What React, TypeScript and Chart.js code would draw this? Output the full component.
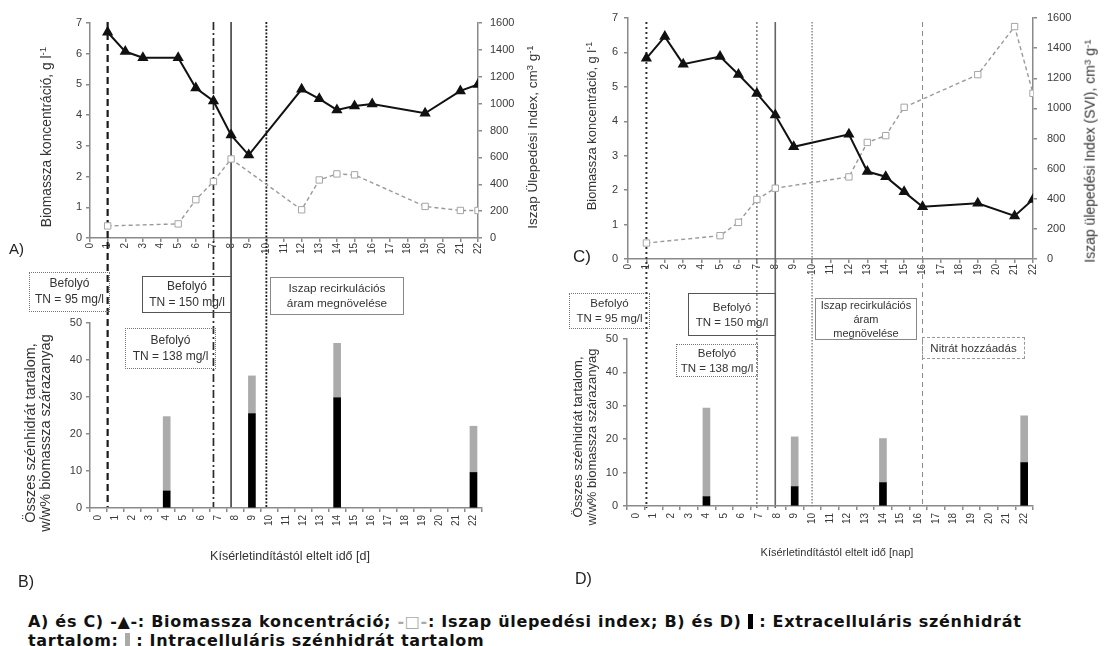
import React, { useEffect, useRef } from "react";
import { Chart, registerables } from "chart.js";

Chart.register(...registerables);

const FONT = "'Liberation Sans', Arial, Helvetica, sans-serif";
Chart.defaults.font.family = FONT;

// ---------------- data ----------------
const dayTickLabels = ["0", "1", "2", "3", "4", "5", "6", "7", "8", "9", "10", "11", "12", "13", "14", "15", "16", "17", "18", "19", "20", "21", "22"];

// Panel A
const bioDaysA = [1, 2, 3, 5, 6, 7, 8, 9, 12, 13, 14, 15, 16, 19, 21, 22];
const bioA = [6.7, 6.07, 5.87, 5.87, 4.88, 4.46, 3.35, 2.7, 4.84, 4.53, 4.17, 4.3, 4.36, 4.06, 4.79, 5.0];
const sviDaysA = [1, 5, 6, 7, 8, 12, 13, 14, 15, 19, 21, 22];
const sviA = [90, 105, 285, 420, 588, 210, 432, 477, 470, 235, 205, 205];

// Panel C
const bioDaysC = [1, 2, 3, 5, 6, 7, 8, 9, 12, 13, 14, 15, 16, 19, 21, 22];
const bioC = [5.83, 6.46, 5.66, 5.88, 5.36, 4.81, 4.18, 3.26, 3.62, 2.54, 2.39, 1.95, 1.52, 1.62, 1.25, 1.73];
const sviDaysC = [1, 5, 6, 7, 8, 12, 13, 14, 15, 19, 21, 22];
const sviC = [106, 155, 243, 395, 470, 545, 774, 819, 1007, 1224, 1543, 1100];

// Panel B
const barDaysB = ["4", "9", "14", "22"];
const extraB = [4.6, 25.5, 29.8, 9.6];
const intraB = [20.1, 10.2, 14.7, 12.5];

// Panel D
const barDaysD = ["4", "9", "14", "22"];
const extraD = [2.8, 5.8, 7.0, 13.0];
const intraD = [26.5, 14.9, 13.2, 14.0];

// event lines (days)
const eventDaysA = [1, 7, 8, 10];
const eventDaysC = [1, 7, 8, 10, 16];

// ---------------- styles ----------------
const eventStylesA = [
  { dash: [7, 4], width: 2.2, color: "#1a1a1a" },
  { dash: [8, 3, 2, 3], width: 1.7, color: "#2a2a2a" },
  { dash: [], width: 1.8, color: "#555" },
  { dash: [2, 1.5], width: 1.8, color: "#222" },
];
const eventStylesC = [
  { dash: [2, 3], width: 2, color: "#333" },
  { dash: [2, 2], width: 1.3, color: "#666" },
  { dash: [], width: 1.6, color: "#666" },
  { dash: [1.5, 1.5], width: 1.3, color: "#777" },
  { dash: [5, 4], width: 1, color: "#888" },
];

const AXIS = "#8a8a8a";
const TICK = "#3a3a3a";

function eventPlugin(days: number[], styles: any[], top: number, bottom: number) {
  return {
    id: "eventLines",
    beforeDatasetsDraw(chart: any) {
      const ctx = chart.ctx;
      const xs = chart.scales.x;
      days.forEach((d, i) => {
        const s = styles[i];
        const px = xs.getPixelForValue(d);
        ctx.save();
        ctx.beginPath();
        ctx.setLineDash(s.dash);
        ctx.lineWidth = s.width;
        ctx.strokeStyle = s.color;
        ctx.moveTo(px, top);
        ctx.lineTo(px, bottom);
        ctx.stroke();
        ctx.restore();
      });
    },
  };
}

const plain = (v: any) => String(v);

function yAxis(pos: string, min: number, max: number, step: number, width: number, pad: number, extra: any = {}) {
  return {
    type: "linear",
    position: pos,
    min,
    max,
    ticks: { stepSize: step, color: TICK, font: { size: 11 }, padding: pad, callback: plain },
    grid: { drawOnChartArea: false, drawTicks: true, tickLength: 4, color: AXIS, lineWidth: 1.5 },
    border: { color: AXIS, width: 1.5 },
    afterFit: (s: any) => {
      s.width = width;
    },
    ...extra,
  };
}

function xTicks() {
  return { autoSkip: false, minRotation: 90, maxRotation: 90, color: TICK, font: { size: 10 }, padding: 1 };
}

function lineConfig(o: any) {
  return {
    type: "line",
    data: {
      datasets: [
        {
          label: "Biomassza koncentráció",
          data: o.bioDays.map((d: number, i: number) => ({ x: d, y: o.bio[i] })),
          yAxisID: "y",
          borderColor: "#111",
          borderWidth: 2,
          pointStyle: "triangle",
          pointRadius: 4.5,
          pointBackgroundColor: "#111",
          pointBorderColor: "#111",
          tension: 0,
        },
        {
          label: "Iszap ülepedési index",
          data: o.sviDays.map((d: number, i: number) => ({ x: d, y: o.svi[i] })),
          yAxisID: "y1",
          borderColor: "#9a9a9a",
          borderWidth: 1.4,
          borderDash: [4, 3],
          pointStyle: "rect",
          pointRadius: 4.5,
          pointBackgroundColor: "#fff",
          pointBorderColor: "#a5a5a5",
          pointBorderWidth: 1,
          tension: 0,
        },
      ],
    },
    options: {
      responsive: false,
      animation: false,
      events: [],
      layout: { padding: { top: o.padTop, bottom: o.padBottom, left: 0, right: 0 } },
      plugins: { legend: { display: false }, tooltip: { enabled: false } },
      scales: {
        x: {
          type: "linear",
          min: 0,
          max: 22,
          ticks: { ...xTicks(), stepSize: 1, callback: plain },
          grid: { drawOnChartArea: false, tickLength: 4, color: AXIS, lineWidth: 1.5 },
          border: { color: AXIS, width: 1.5 },
          afterFit: (s: any) => {
            s.height = 24;
          },
        },
        y: yAxis("left", 0, 7, 1, o.leftW, o.leftPad),
        y1: yAxis("right", 0, 1600, 200, o.rightW, o.rightPad),
      },
    },
    plugins: [eventPlugin(o.events, o.eventStyles, o.lineTop, o.lineBottom)],
  };
}

function barConfig(o: any) {
  const full = (vals: number[]) =>
    dayTickLabels.map((l) => {
      const i = o.days.indexOf(l);
      return i < 0 ? null : vals[i];
    });
  return {
    type: "bar",
    data: {
      labels: dayTickLabels,
      datasets: [
        { label: "Extracelluláris szénhidrát tartalom", data: full(o.extra), backgroundColor: "#000", barThickness: 7 },
        { label: "Intracelluláris szénhidrát tartalom", data: full(o.intra), backgroundColor: "#ababab", barThickness: 7 },
      ],
    },
    options: {
      responsive: false,
      animation: false,
      events: [],
      layout: { padding: { top: o.padTop, bottom: o.padBottom, left: 0, right: o.padRight } },
      plugins: { legend: { display: false }, tooltip: { enabled: false } },
      scales: {
        x: {
          type: "category",
          stacked: true,
          ticks: { ...xTicks(), padding: 3 },
          grid: { drawOnChartArea: false, tickLength: 4, color: AXIS, lineWidth: 1.5 },
          border: { color: AXIS, width: 1.5 },
          afterFit: (s: any) => {
            s.height = 30;
          },
        },
        y: yAxis("left", 0, 50, 10, o.leftW, o.leftPad, { stacked: true }),
      },
    },
  };
}

function ChartCanvas({ left, top, width, height, make }: any) {
  const ref = useRef<HTMLCanvasElement>(null);
  useEffect(() => {
    const chart = new Chart(ref.current as HTMLCanvasElement, make());
    return () => chart.destroy();
  }, []);
  return (
    <canvas
      ref={ref}
      width={width}
      height={height}
      style={{ position: "absolute", left, top, width, height }}
    />
  );
}

function VText({ cx, cy, size, children }: any) {
  return (
    <div
      style={{
        position: "absolute",
        left: cx,
        top: cy,
        transform: "translate(-50%,-50%) rotate(-90deg)",
        whiteSpace: "nowrap",
        fontSize: size,
        color: "#333",
        lineHeight: 1.05,
        textAlign: "center",
      }}
    >
      {children}
    </div>
  );
}

function Label({ x, y, size, children }: any) {
  return (
    <div style={{ position: "absolute", left: x, top: y, fontSize: size, color: "#222", whiteSpace: "nowrap", lineHeight: 1 }}>
      {children}
    </div>
  );
}

function CenterLabel({ cx, y, size, children }: any) {
  return (
    <div style={{ position: "absolute", left: cx, top: y, transform: "translateX(-50%)", fontSize: size, color: "#333", whiteSpace: "nowrap", lineHeight: 1 }}>
      {children}
    </div>
  );
}

function Box({ x, y, w, h, border, lines, size }: any) {
  return (
    <div
      style={{
        position: "absolute",
        left: x,
        top: y,
        width: w,
        height: h,
        boxSizing: "border-box",
        border,
        display: "flex",
        flexDirection: "column",
        justifyContent: "center",
        alignItems: "center",
        fontSize: size,
        lineHeight: 1.3,
        color: "#333",
        whiteSpace: "nowrap",
      }}
    >
      {lines.map((l: string, i: number) => (
        <div key={i}>{l}</div>
      ))}
    </div>
  );
}

const sup = (t: string) => <sup style={{ fontSize: "0.7em", verticalAlign: "0.45em", lineHeight: 0 }}>{t}</sup>;

export default function App() {
  const makeA = () =>
    lineConfig({
      bioDays: bioDaysA, bio: bioA, sviDays: sviDaysA, svi: sviA,
      padTop: 23, padBottom: 515 - 238 - 24, leftW: 90, rightW: 82, leftPad: 4, rightPad: 8,
      events: eventDaysA, eventStyles: eventStylesA, lineTop: 22, lineBottom: 508,
    });
  const makeC = () =>
    lineConfig({
      bioDays: bioDaysC, bio: bioC, sviDays: sviDaysC, svi: sviC,
      padTop: 18, padBottom: 515 - 259 - 24, leftW: 78, rightW: 74, leftPad: 6, rightPad: 10,
      events: eventDaysC, eventStyles: eventStylesC, lineTop: 22, lineBottom: 508,
    });
  const makeB = () =>
    barConfig({ days: barDaysB, extra: extraB, intra: intraB, padTop: 23, padBottom: 300 - 208 - 30, padRight: 78, leftW: 90, leftPad: 4 });
  const makeD = () =>
    barConfig({ days: barDaysD, extra: extraD, intra: intraD, padTop: 39, padBottom: 300 - 206 - 30, padRight: 74, leftW: 77, leftPad: 5 });

  const dotted = "1.5px dotted #777";
  const solid = "1.5px solid #555";
  const thin = "1px solid #888";
  const dashed = "1.2px dashed #999";

  return (
    <div style={{ position: "absolute", left: 0, top: 0, width: 1107, height: 646, background: "#fff", overflow: "hidden", fontFamily: FONT }}>
      <ChartCanvas left={0} top={0} width={560} height={515} make={makeA} />
      <ChartCanvas left={550} top={0} width={557} height={515} make={makeC} />
      <ChartCanvas left={0} top={300} width={560} height={300} make={makeB} />
      <ChartCanvas left={550} top={300} width={557} height={300} make={makeD} />

      {/* axis titles */}
      <VText cx={47} cy={137} size={13.8}>Biomassza koncentráció, g l{sup("-1")}</VText>
      <VText cx={533} cy={137} size={13.5}>Iszap Ülepedési Index, cm{sup("3")} g{sup("-1")}</VText>
      <VText cx={592} cy={126} size={12.9}>Biomassza koncentráció, g l{sup("-1")}</VText>
      <VText cx={1090} cy={151} size={14}>Iszap ülepedési Index (SVI), cm{sup("3")} g{sup("-1")}</VText>
      <VText cx={38} cy={433} size={14.5}>
        Összes szénhidrát tartalom,
        <br />
        w/w% biomassza szárazanyag
      </VText>
      <VText cx={585} cy={437} size={13}>
        Összes szénhidrát tartalom,
        <br />
        w/w% biomassza szárazanyag
      </VText>
      <CenterLabel cx={290} y={550} size={12.5}>Kísérletindítástól eltelt idő [d]</CenterLabel>
      <CenterLabel cx={837} y={547} size={11}>Kísérletindítástól eltelt idő [nap]</CenterLabel>

      {/* panel letters */}
      <Label x={9} y={241} size={15}>A)</Label>
      <Label x={573} y={248} size={17}>C)</Label>
      <Label x={18} y={574} size={16}>B)</Label>
      <Label x={575} y={571} size={16}>D)</Label>

      {/* annotation boxes B */}
      <Box x={29} y={272} w={81} h={40} border={dotted} size={12} lines={["Befolyó", "TN = 95 mg/l"]} />
      <Box x={142} y={276} w={90} h={37} border={solid} size={12} lines={["Befolyó", "TN = 150 mg/l"]} />
      <Box x={125} y={328} w={91} h={41} border={dotted} size={12} lines={["Befolyó", "TN = 138 mg/l"]} />
      <Box x={270} y={277} w={134} h={38} border={thin} size={11.8} lines={["Iszap recirkulációs", "áram megnövelése"]} />

      {/* annotation boxes D */}
      <Box x={569} y={293} w={81} h={36} border={dotted} size={11.5} lines={["Befolyó", "TN = 95 mg/l"]} />
      <Box x={688} y={293} w={88} h={43} border={solid} size={11.5} lines={["Befolyó", "TN = 150 mg/l"]} />
      <Box x={676} y={344} w={82} h={33} border={dotted} size={11.5} lines={["Befolyó", "TN = 138 mg/l"]} />
      <Box x={815} y={298} w={102} h={42} border={thin} size={11} lines={["Iszap recirkulációs", "áram", "megnövelése"]} />
      <Box x={922} y={337} w={103} h={22} border={dashed} size={11.5} lines={["Nitrát hozzáadás"]} />

      {/* caption */}
      <div style={{ position: "absolute", left: 28, top: 612, fontFamily: "'DejaVu Sans', sans-serif", fontSize: 16, letterSpacing: 0.7, fontWeight: "bold", color: "#111", lineHeight: "19px", whiteSpace: "nowrap" }}>
        <div>
          A) és C) -▲-: Biomassza koncentráció; <span style={{ color: "#aaa" }}>-□-</span>: Iszap ülepedési index; B) és D){" "}
          <span style={{ display: "inline-block", width: 5, height: 15, background: "#000", verticalAlign: "-2px" }} /> : Extracelluláris szénhidrát
        </div>
        <div>
          tartalom; <span style={{ display: "inline-block", width: 5, height: 15, background: "#aaa", verticalAlign: "-2px" }} /> : Intracelluláris szénhidrát tartalom
        </div>
      </div>
    </div>
  );
}
